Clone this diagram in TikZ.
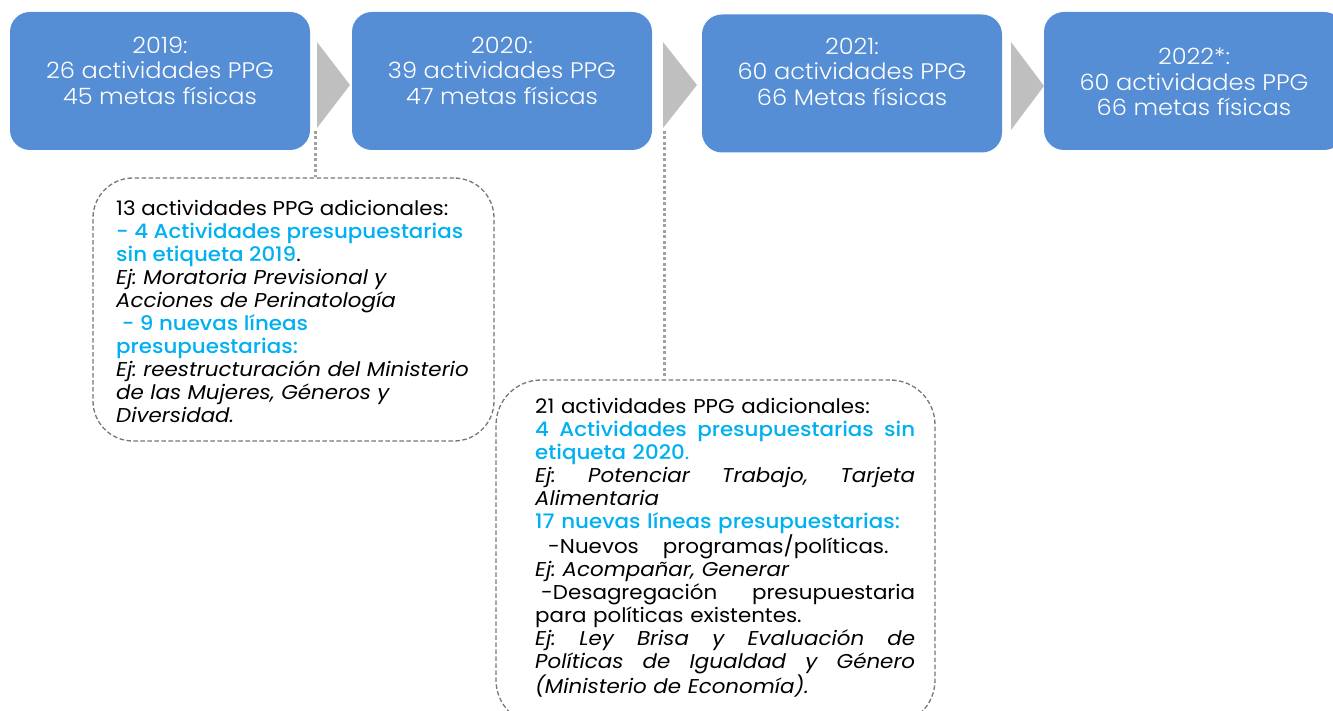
\documentclass[tikz,border=0pt]{standalone}
\usepackage{fontspec}
\setmainfont{Poppins}[FakeStretch=1.07,BoldFont={Poppins Medium},BoldFeatures={FakeStretch=1.07}]
\newfontfamily\lightfont{Poppins Light}[FakeStretch=1.07]
\definecolor{boxblue}{RGB}{85,142,213}
\definecolor{chevgray}{RGB}{191,191,191}
\definecolor{dotgray}{RGB}{160,160,160}
\definecolor{dashgray}{RGB}{118,118,118}
\definecolor{hicyan}{RGB}{0,176,240}
\begin{document}
\frenchspacing
\begin{tikzpicture}[x=1pt,y=-1pt,
  yearbox/.style={fill=boxblue,draw=none,rounded corners=20pt,minimum width=300pt,minimum height=138pt,inner sep=0pt},
  yeartext/.style={text=white,align=center,inner sep=0pt,font=\lightfont\fontsize{22.5}{25.5}\selectfont},
  chev/.style={fill=chevgray,draw=none},
  link/.style={draw=dotgray,line width=3pt,dash pattern=on 3pt off 2.5pt},
  callout/.style={draw=dashgray,line width=1.3pt,dash pattern=on 4.5pt off 2.5pt,inner sep=0pt},
  notetext/.style={inner sep=0pt,anchor=north west,align=left,font=\fontsize{20}{23}\selectfont}]
\useasboundingbox (0,0) rectangle (1333,711);
\clip (0,0) rectangle (1333,711);
\newcommand{\hl}[1]{{\bfseries\color{hicyan}#1}}
\newcommand{\jl}[1]{\makebox[380pt][l]{#1}}
% year boxes
\node[yearbox] (y1) at (160,81) {};
\node[yearbox] (y2) at (502,81) {};
\node[yearbox] (y3) at (852,83.5) {};
\node[yearbox] (y4) at (1194,81) {};
\node[yeartext] (t1) at (160,70.5) {2019:\\26 actividades PPG\\45 metas físicas};
\node[yeartext] (t2) at (502,70.5) {2020:\\39 actividades PPG\\47 metas físicas};
\node[yeartext] (t3) at (852,71.5) {2021:\\60 actividades PPG\\66 Metas físicas};
\node[yeartext] (t4) at (1194,82) {2022*:\\60 actividades PPG\\66 metas físicas};
% chevrons
\fill[chev] (317,42) coordinate (a1a) -- (350,85) -- (317,128) coordinate (a1b) -- cycle;
\fill[chev] (663,42) coordinate (a2a) -- (697,85) -- (663,128) coordinate (a2b) -- cycle;
\fill[chev] (1011,42) coordinate (a3a) -- (1044,86) -- (1011,130) coordinate (a3b) -- cycle;
% callouts
\node[callout,rounded corners=40pt,minimum width=401pt,minimum height=263pt] (c1) at (293.5,309.5) {};
\node[callout,rounded corners=45pt,minimum width=439pt,minimum height=345pt] (c2) at (715.5,552.5) {};
\coordinate (s1) at (315,131);
\coordinate (s2) at (664,131);
\draw[link] (s1) -- (s1 |- c1.north);
\draw[link] (s2) -- (s2 |- c2.north);
% note texts
\node[notetext] (n1) at (116,200) {13 actividades PPG adicionales:\\
\hl{- 4 Actividades presupuestarias}\\
\hl{sin etiqueta 2019}.\\
\textit{Ej: Moratoria Previsional y}\\
\textit{Acciones de Perinatología}\\
\hl{\ - 9 nuevas líneas}\\
\hl{presupuestarias:}\\
\textit{Ej: reestructuración del Ministerio}\\
\textit{de las Mujeres, Géneros y}\\
\textit{Diversidad.}};
\node[notetext,text width=380pt] (n2) at (535,398) {21 actividades PPG adicionales:\\
\jl{\hl{4\hfill Actividades\hfill presupuestarias\hfill sin}}\\
\hl{etiqueta 2020}{\color{hicyan}.}\\
\jl{\itshape Ej:\hfill Potenciar\hfill Trabajo,\hfill Tarjeta}\\
\textit{Alimentaria}\\
\hl{17 nuevas líneas presupuestarias:}\\
\makebox[345pt][l]{\hspace*{13pt}-Nuevos\hspace*{24pt}\hfill programas/políticas.}\\
\textit{Ej: Acompañar, Generar}\\
\jl{\hspace*{6pt}-Desagregación\hfill presupuestaria}\\
para políticas existentes.\\
\jl{\itshape Ej:\hfill Ley\hfill Brisa\hfill y\hfill Evaluación\hfill de}\\
\jl{\itshape Políticas\hfill de\hfill Igualdad\hfill y\hfill Género}\\
\textit{(Ministerio de Economía).}};
\end{tikzpicture}
\end{document}
